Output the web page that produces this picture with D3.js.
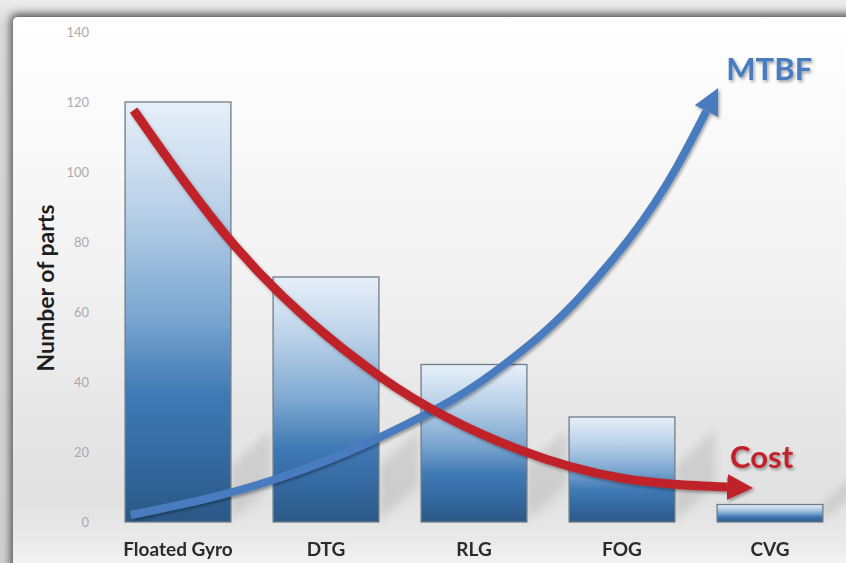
<!DOCTYPE html>
<html>
<head>
<meta charset="utf-8">
<script src="https://cdn.jsdelivr.net/npm/d3@7"></script>
<style>
  html, body { margin: 0; padding: 0; background: #fff; }
  svg { display: block; }
</style>
</head>
<body>
<svg id="chart" width="846" height="563"></svg>
<script>
// Gyroscope technologies and how many parts each one needs
const categories = ["Floated Gyro", "DTG", "RLG", "FOG", "CVG"];
const partCounts = [120, 70, 45, 30, 5];
const tickValues = [0, 20, 40, 60, 80, 100, 120, 140];

// Trend arrows, in chart units: [category position, number of parts]
const costTrend = [
  [-0.30, 117.7], [0.39, 78.6], [1.37, 41.4], [2.31, 20.6], [2.99, 12.6], [3.71, 10.0]
];
const mtbfTrend = [
  [-0.32, 2.0], [0.64, 12.0], [1.37, 24.3], [2.13, 42.6], [2.74, 65.4],
  [3.37, 101.4], [3.57, 117.4]
];
const trendLabels = [
  { text: "MTBF", pos: 3.705, value: 126.3, color: "#4a7cbf" },
  { text: "Cost", pos: 3.73, value: 15.4, color: "#c0222b" }
];

const W = 846, H = 563;
const svg = d3.select("#chart");
const defs = svg.append("defs");

// ---- frame: grey backdrop and a panel that casts a shadow up and left ----
const panelGrad = defs.append("linearGradient")
  .attr("id", "panelGrad").attr("x1", 0).attr("y1", 0).attr("x2", 0).attr("y2", 1);
[[0, "#ffffff"], [0.15, "#fbfbfb"], [0.43, "#f2f2f2"], [0.70, "#e6e6e6"],
 [0.83, "#e1e1e1"], [0.90, "#eaeaea"], [0.965, "#f9f9f9"], [1, "#ffffff"]]
  .forEach(([o, c]) => panelGrad.append("stop").attr("offset", o).attr("stop-color", c));

const panelShadow = defs.append("filter").attr("id", "panelShadow")
  .attr("x", "-10%").attr("y", "-10%").attr("width", "130%").attr("height", "130%");
panelShadow.append("feDropShadow").attr("dx", -2).attr("dy", -3)
  .attr("stdDeviation", 4).attr("flood-color", "#000").attr("flood-opacity", 0.65);

const backGrad = defs.append("linearGradient")
  .attr("id", "backGrad").attr("x1", 0).attr("y1", 0).attr("x2", 0).attr("y2", 1);
[[0, "#ececec"], [0.05, "#d8d8d8"], [1, "#cfcfcf"]]
  .forEach(([o, c]) => backGrad.append("stop").attr("offset", o).attr("stop-color", c));

svg.append("rect").attr("width", W).attr("height", H).attr("fill", "url(#backGrad)");
svg.append("rect")
  .attr("x", 13).attr("y", 17).attr("width", W + 20).attr("height", H + 20)
  .attr("rx", 5)
  .attr("fill", "url(#panelGrad)")
  .attr("filter", "url(#panelShadow)");

// ---- scales ----
const x = d3.scaleBand()
  .domain(categories)
  .range([104, 844])
  .paddingInner(0.285)
  .paddingOuter(0.1425);

const y = d3.scaleLinear().domain([0, 140]).range([522, 32]);

// continuous position along the category axis (index -> band centre)
const xPos = d3.scaleLinear()
  .domain([0, categories.length - 1])
  .range([x(categories[0]) + x.bandwidth() / 2,
          x(categories[categories.length - 1]) + x.bandwidth() / 2]);

const font = "Lato, 'Open Sans', sans-serif";

// ---- y axis (labels only) ----
const yAxis = svg.append("g")
  .attr("transform", "translate(95,0)")
  .call(d3.axisLeft(y).tickValues(tickValues).tickSize(0).tickPadding(6));
yAxis.select(".domain").remove();
yAxis.selectAll("text")
  .attr("fill", "#ababab")
  .style("font-family", font)
  .style("font-size", "13px");

svg.append("text")
  .attr("transform", `translate(54,${(y(0) + y(140)) / 2 + 11}) rotate(-90)`)
  .attr("text-anchor", "middle")
  .attr("fill", "#1e1e1e")
  .style("font-family", font)
  .style("font-weight", "bold")
  .style("font-size", "23px")
  .text("Number of parts");

// ---- bar shadows cast up and to the right ----
const blur = defs.append("filter").attr("id", "blur")
  .attr("x", "-30%").attr("y", "-30%").attr("width", "160%").attr("height", "160%");
blur.append("feGaussianBlur").attr("stdDeviation", 4);

svg.append("g").attr("filter", "url(#blur)").selectAll("path")
  .data(categories)
  .join("path")
  .attr("d", (d, i) => {
    const x1 = x(d) + x.bandwidth();
    const yb = y(0);
    const hs = Math.min(y(0) - y(partCounts[i]), 55);
    const dx = 40, dy = 38;
    return `M${x1},${yb}L${x1},${yb - hs}L${x1 + dx},${yb - hs - dy}L${x1 + dx},${yb - dy}Z`;
  })
  .attr("fill", "#000")
  .attr("opacity", 0.09);

// ---- bars ----
const barGrad = defs.append("linearGradient")
  .attr("id", "barGrad").attr("x1", 0).attr("y1", 0).attr("x2", 0).attr("y2", 1);
[[0, "#e7f0f9"], [0.25, "#bad1e8"], [0.5, "#7ea8d1"], [0.7, "#3f79b4"],
 [0.85, "#3469a0"], [1, "#2b5886"]]
  .forEach(([o, c]) => barGrad.append("stop").attr("offset", o).attr("stop-color", c));

svg.append("g").selectAll("rect")
  .data(categories)
  .join("rect")
  .attr("x", d => x(d))
  .attr("y", (d, i) => y(partCounts[i]))
  .attr("width", x.bandwidth())
  .attr("height", (d, i) => y(0) - y(partCounts[i]))
  .attr("fill", "url(#barGrad)")
  .attr("stroke", "#6f7c88")
  .attr("stroke-width", 1.3);

// ---- category labels ----
svg.append("g").selectAll("text")
  .data(categories)
  .join("text")
  .attr("x", d => x(d) + x.bandwidth() / 2)
  .attr("y", 556)
  .attr("text-anchor", "middle")
  .attr("fill", "#2b2b2b")
  .style("font-family", font)
  .style("font-weight", "bold")
  .style("font-size", "19px")
  .text(d => d);

// ---- trend arrows ----
const softShadow = defs.append("filter").attr("id", "softShadow")
  .attr("x", "-20%").attr("y", "-20%").attr("width", "140%").attr("height", "140%");
softShadow.append("feDropShadow").attr("dx", 1.5).attr("dy", 2)
  .attr("stdDeviation", 1.6).attr("flood-color", "#000").attr("flood-opacity", 0.35);

function arrowHead(id, color) {
  defs.append("marker")
    .attr("id", id)
    .attr("markerUnits", "userSpaceOnUse")
    .attr("viewBox", "0 0 26 26")
    .attr("refX", 0).attr("refY", 13)
    .attr("markerWidth", 26).attr("markerHeight", 26)
    .attr("orient", "auto")
    .append("path")
    .attr("d", "M0,0 L26,13 L0,26 Z")
    .attr("fill", color);
}
arrowHead("headBlue", "#4a7cbf");
arrowHead("headRed", "#c0222b");

const trendLine = d3.line()
  .x(d => xPos(d[0]))
  .y(d => y(d[1]))
  .curve(d3.curveMonotoneX);

svg.append("path")
  .attr("d", trendLine(mtbfTrend))
  .attr("fill", "none")
  .attr("stroke", "#4a7cbf")
  .attr("stroke-width", 8)
  .attr("marker-end", "url(#headBlue)")
  .attr("filter", "url(#softShadow)");

svg.append("path")
  .attr("d", trendLine(costTrend))
  .attr("fill", "none")
  .attr("stroke", "#c0222b")
  .attr("stroke-width", 9)
  .attr("marker-end", "url(#headRed)")
  .attr("filter", "url(#softShadow)");

// ---- trend labels ----
svg.append("g").selectAll("text")
  .data(trendLabels)
  .join("text")
  .attr("x", d => xPos(d.pos))
  .attr("y", d => y(d.value))
  .attr("fill", d => d.color)
  .attr("filter", "url(#softShadow)")
  .style("font-family", font)
  .style("font-weight", "bold")
  .style("font-size", "31px")
  .text(d => d.text);
</script>
</body>
</html>
